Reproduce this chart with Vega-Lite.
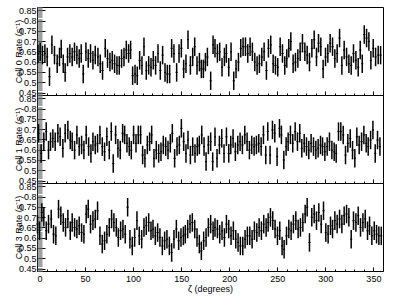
{
"$schema": "https://vega.github.io/schema/vega-lite/v6.json",
"padding": {"left": 13, "top": 5, "right": 5, "bottom": 2},
"spacing": 0,
"bounds": "flush",
"config": {"view": {"stroke": "#000", "strokeWidth": 1}, "font": "Liberation Sans", "axis": {"grid": false, "domain": false, "labelFont": "Liberation Sans", "titleFont": "Liberation Sans", "labelColor": "#000", "titleColor": "#000", "titleFontWeight": "normal"}},
"datasets": {
"d0": [{"z":1,"r":0.637,"e":0.045},{"z":3.3,"r":0.648,"e":0.045},{"z":5.7,"r":0.632,"e":0.045},{"z":8.2,"r":0.64,"e":0.045},{"z":10.6,"r":0.623,"e":0.045},{"z":13,"r":0.527,"e":0.045},{"z":15.5,"r":0.682,"e":0.045},{"z":18.2,"r":0.632,"e":0.045},{"z":21,"r":0.59,"e":0.045},{"z":23.4,"r":0.623,"e":0.045},{"z":25.2,"r":0.662,"e":0.045},{"z":27.3,"r":0.59,"e":0.045},{"z":29.3,"r":0.548,"e":0.045},{"z":31.8,"r":0.623,"e":0.045},{"z":34.2,"r":0.64,"e":0.045},{"z":36.6,"r":0.623,"e":0.045},{"z":39,"r":0.648,"e":0.045},{"z":41.5,"r":0.632,"e":0.045},{"z":43.9,"r":0.615,"e":0.045},{"z":46,"r":0.64,"e":0.045},{"z":48.1,"r":0.54,"e":0.045},{"z":50.9,"r":0.648,"e":0.045},{"z":53.3,"r":0.615,"e":0.045},{"z":55.7,"r":0.64,"e":0.045},{"z":58.2,"r":0.607,"e":0.045},{"z":60.6,"r":0.632,"e":0.045},{"z":63.4,"r":0.623,"e":0.045},{"z":65.8,"r":0.59,"e":0.045},{"z":68.2,"r":0.557,"e":0.045},{"z":71,"r":0.665,"e":0.045},{"z":73.4,"r":0.615,"e":0.045},{"z":75.9,"r":0.598,"e":0.045},{"z":78.3,"r":0.607,"e":0.045},{"z":80.7,"r":0.59,"e":0.045},{"z":83.2,"r":0.582,"e":0.045},{"z":85.6,"r":0.582,"e":0.045},{"z":88,"r":0.615,"e":0.045},{"z":90.5,"r":0.623,"e":0.045},{"z":92.9,"r":0.657,"e":0.045},{"z":95.3,"r":0.64,"e":0.045},{"z":97.4,"r":0.657,"e":0.045},{"z":99.5,"r":0.532,"e":0.045},{"z":102,"r":0.54,"e":0.045},{"z":104.3,"r":0.532,"e":0.045},{"z":106.8,"r":0.607,"e":0.045},{"z":109.2,"r":0.582,"e":0.045},{"z":111.3,"r":0.673,"e":0.045},{"z":113.7,"r":0.557,"e":0.045},{"z":116.2,"r":0.582,"e":0.045},{"z":118.6,"r":0.573,"e":0.045},{"z":121,"r":0.607,"e":0.045},{"z":123.4,"r":0.582,"e":0.045},{"z":125.9,"r":0.64,"e":0.045},{"z":128.3,"r":0.557,"e":0.045},{"z":130.7,"r":0.632,"e":0.045},{"z":133.2,"r":0.548,"e":0.045},{"z":135.6,"r":0.54,"e":0.045},{"z":138,"r":0.54,"e":0.045},{"z":140.1,"r":0.665,"e":0.045},{"z":142.5,"r":0.64,"e":0.045},{"z":145.3,"r":0.548,"e":0.045},{"z":147.8,"r":0.64,"e":0.045},{"z":150.2,"r":0.665,"e":0.045},{"z":152.6,"r":0.565,"e":0.045},{"z":155,"r":0.59,"e":0.045},{"z":157.1,"r":0.707,"e":0.045},{"z":159.6,"r":0.582,"e":0.045},{"z":162,"r":0.623,"e":0.045},{"z":164.1,"r":0.673,"e":0.045},{"z":166.5,"r":0.582,"e":0.045},{"z":169,"r":0.598,"e":0.045},{"z":171,"r":0.565,"e":0.045},{"z":173.1,"r":0.565,"e":0.045},{"z":175.2,"r":0.598,"e":0.045},{"z":177.3,"r":0.623,"e":0.045},{"z":180.7,"r":0.507,"e":0.045},{"z":183.2,"r":0.682,"e":0.045},{"z":185.2,"r":0.665,"e":0.045},{"z":187.7,"r":0.64,"e":0.045},{"z":190.1,"r":0.648,"e":0.045},{"z":192.5,"r":0.573,"e":0.045},{"z":195,"r":0.623,"e":0.045},{"z":197,"r":0.64,"e":0.045},{"z":199.5,"r":0.573,"e":0.045},{"z":201.9,"r":0.648,"e":0.045},{"z":204.7,"r":0.507,"e":0.045},{"z":207.1,"r":0.565,"e":0.045},{"z":209.6,"r":0.598,"e":0.045},{"z":212,"r":0.665,"e":0.045},{"z":214.4,"r":0.673,"e":0.045},{"z":216.9,"r":0.673,"e":0.045},{"z":219.3,"r":0.64,"e":0.045},{"z":221.7,"r":0.673,"e":0.045},{"z":224.1,"r":0.648,"e":0.045},{"z":226.6,"r":0.598,"e":0.045},{"z":229,"r":0.582,"e":0.045},{"z":231.4,"r":0.59,"e":0.045},{"z":233.9,"r":0.623,"e":0.045},{"z":236.3,"r":0.648,"e":0.045},{"z":238.7,"r":0.557,"e":0.045},{"z":240.8,"r":0.665,"e":0.045},{"z":243.2,"r":0.682,"e":0.045},{"z":245.7,"r":0.59,"e":0.045},{"z":248.1,"r":0.582,"e":0.045},{"z":250.5,"r":0.573,"e":0.045},{"z":253,"r":0.673,"e":0.045},{"z":255.4,"r":0.64,"e":0.045},{"z":257.8,"r":0.582,"e":0.045},{"z":259.9,"r":0.615,"e":0.045},{"z":262,"r":0.665,"e":0.045},{"z":264.1,"r":0.698,"e":0.045},{"z":266.5,"r":0.59,"e":0.045},{"z":268.9,"r":0.598,"e":0.045},{"z":271.4,"r":0.615,"e":0.045},{"z":273.8,"r":0.648,"e":0.045},{"z":276.2,"r":0.69,"e":0.045},{"z":278.7,"r":0.648,"e":0.045},{"z":281.1,"r":0.632,"e":0.045},{"z":283.5,"r":0.598,"e":0.045},{"z":286,"r":0.665,"e":0.045},{"z":288.4,"r":0.707,"e":0.045},{"z":290.8,"r":0.623,"e":0.045},{"z":292.9,"r":0.69,"e":0.045},{"z":295.3,"r":0.673,"e":0.045},{"z":297.7,"r":0.565,"e":0.045},{"z":300.2,"r":0.623,"e":0.045},{"z":302.6,"r":0.64,"e":0.045},{"z":305,"r":0.69,"e":0.045},{"z":307.5,"r":0.673,"e":0.045},{"z":309.9,"r":0.615,"e":0.045},{"z":312.3,"r":0.64,"e":0.045},{"z":314.8,"r":0.715,"e":0.045},{"z":317.2,"r":0.582,"e":0.045},{"z":319.6,"r":0.657,"e":0.045},{"z":322.1,"r":0.623,"e":0.045},{"z":324.5,"r":0.59,"e":0.045},{"z":326.9,"r":0.582,"e":0.045},{"z":329.3,"r":0.64,"e":0.045},{"z":331.8,"r":0.607,"e":0.045},{"z":334.2,"r":0.573,"e":0.045},{"z":336.3,"r":0.657,"e":0.045},{"z":338.4,"r":0.59,"e":0.045},{"z":340.5,"r":0.732,"e":0.045},{"z":342.9,"r":0.715,"e":0.045},{"z":345.3,"r":0.698,"e":0.045},{"z":347.4,"r":0.607,"e":0.045},{"z":349.8,"r":0.665,"e":0.045},{"z":352.3,"r":0.623,"e":0.045},{"z":355,"r":0.632,"e":0.045},{"z":357.5,"r":0.632,"e":0.045}],
"d1": [{"z":1.6,"r":0.68,"e":0.045},{"z":4.3,"r":0.582,"e":0.045},{"z":7.1,"r":0.639,"e":0.045},{"z":9.6,"r":0.688,"e":0.045},{"z":12,"r":0.598,"e":0.045},{"z":14.1,"r":0.639,"e":0.045},{"z":16.5,"r":0.655,"e":0.045},{"z":18.9,"r":0.639,"e":0.045},{"z":21.7,"r":0.68,"e":0.045},{"z":24.1,"r":0.663,"e":0.045},{"z":26.9,"r":0.607,"e":0.045},{"z":29.3,"r":0.68,"e":0.045},{"z":32.1,"r":0.696,"e":0.045},{"z":34.6,"r":0.647,"e":0.045},{"z":36.6,"r":0.639,"e":0.045},{"z":39.1,"r":0.598,"e":0.045},{"z":41.5,"r":0.672,"e":0.045},{"z":43.9,"r":0.615,"e":0.045},{"z":46.4,"r":0.623,"e":0.045},{"z":48.8,"r":0.598,"e":0.045},{"z":51.2,"r":0.672,"e":0.045},{"z":53.7,"r":0.615,"e":0.045},{"z":56.1,"r":0.582,"e":0.045},{"z":58.2,"r":0.639,"e":0.045},{"z":60.6,"r":0.623,"e":0.045},{"z":63,"r":0.631,"e":0.045},{"z":65.5,"r":0.672,"e":0.045},{"z":67.9,"r":0.615,"e":0.045},{"z":70.3,"r":0.59,"e":0.045},{"z":72.7,"r":0.663,"e":0.045},{"z":75.2,"r":0.598,"e":0.045},{"z":77.3,"r":0.688,"e":0.045},{"z":79.3,"r":0.533,"e":0.045},{"z":81.8,"r":0.672,"e":0.045},{"z":84.2,"r":0.607,"e":0.045},{"z":86.6,"r":0.598,"e":0.045},{"z":89.1,"r":0.68,"e":0.045},{"z":91.2,"r":0.672,"e":0.045},{"z":93.6,"r":0.631,"e":0.045},{"z":96,"r":0.615,"e":0.045},{"z":98.1,"r":0.598,"e":0.045},{"z":100.5,"r":0.672,"e":0.045},{"z":103,"r":0.631,"e":0.045},{"z":105.4,"r":0.672,"e":0.045},{"z":107.8,"r":0.672,"e":0.045},{"z":109.9,"r":0.574,"e":0.045},{"z":112.3,"r":0.558,"e":0.045},{"z":114.8,"r":0.623,"e":0.045},{"z":117.2,"r":0.639,"e":0.045},{"z":119.3,"r":0.672,"e":0.045},{"z":121.7,"r":0.558,"e":0.045},{"z":124.1,"r":0.598,"e":0.045},{"z":126.6,"r":0.582,"e":0.045},{"z":129,"r":0.59,"e":0.045},{"z":131.4,"r":0.623,"e":0.045},{"z":133.9,"r":0.615,"e":0.045},{"z":136.3,"r":0.598,"e":0.045},{"z":138.7,"r":0.631,"e":0.045},{"z":140.8,"r":0.68,"e":0.045},{"z":143.2,"r":0.558,"e":0.045},{"z":145.7,"r":0.615,"e":0.045},{"z":148.1,"r":0.623,"e":0.045},{"z":150.2,"r":0.704,"e":0.045},{"z":152.6,"r":0.639,"e":0.045},{"z":155,"r":0.582,"e":0.045},{"z":157.1,"r":0.647,"e":0.045},{"z":159.6,"r":0.574,"e":0.045},{"z":162,"r":0.615,"e":0.045},{"z":164.4,"r":0.582,"e":0.045},{"z":166.8,"r":0.615,"e":0.045},{"z":168.9,"r":0.623,"e":0.045},{"z":171.4,"r":0.672,"e":0.045},{"z":173.8,"r":0.615,"e":0.045},{"z":175.9,"r":0.542,"e":0.045},{"z":178.3,"r":0.623,"e":0.045},{"z":180.7,"r":0.639,"e":0.045},{"z":182.8,"r":0.542,"e":0.045},{"z":185.2,"r":0.663,"e":0.045},{"z":187.3,"r":0.558,"e":0.045},{"z":189.8,"r":0.623,"e":0.045},{"z":192.2,"r":0.655,"e":0.045},{"z":194.6,"r":0.582,"e":0.045},{"z":197.1,"r":0.663,"e":0.045},{"z":199.5,"r":0.582,"e":0.045},{"z":201.6,"r":0.623,"e":0.045},{"z":204,"r":0.655,"e":0.045},{"z":206.4,"r":0.59,"e":0.045},{"z":208.9,"r":0.623,"e":0.045},{"z":211.3,"r":0.639,"e":0.045},{"z":213.7,"r":0.623,"e":0.045},{"z":216.2,"r":0.672,"e":0.045},{"z":218.6,"r":0.639,"e":0.045},{"z":221,"r":0.598,"e":0.045},{"z":223.4,"r":0.623,"e":0.045},{"z":225.9,"r":0.615,"e":0.045},{"z":228.3,"r":0.623,"e":0.045},{"z":230.7,"r":0.631,"e":0.045},{"z":233.2,"r":0.615,"e":0.045},{"z":235.6,"r":0.672,"e":0.045},{"z":238,"r":0.574,"e":0.045},{"z":240.1,"r":0.688,"e":0.045},{"z":242.5,"r":0.574,"e":0.045},{"z":245,"r":0.696,"e":0.045},{"z":247.4,"r":0.68,"e":0.045},{"z":249.8,"r":0.566,"e":0.045},{"z":252.3,"r":0.704,"e":0.045},{"z":254.3,"r":0.672,"e":0.045},{"z":256.8,"r":0.55,"e":0.045},{"z":259.2,"r":0.615,"e":0.045},{"z":261.3,"r":0.639,"e":0.045},{"z":263.7,"r":0.672,"e":0.045},{"z":266.1,"r":0.631,"e":0.045},{"z":268.6,"r":0.688,"e":0.045},{"z":271,"r":0.639,"e":0.045},{"z":273.4,"r":0.68,"e":0.045},{"z":275.5,"r":0.607,"e":0.045},{"z":278,"r":0.631,"e":0.045},{"z":280.4,"r":0.615,"e":0.045},{"z":282.8,"r":0.598,"e":0.045},{"z":285.2,"r":0.631,"e":0.045},{"z":287.7,"r":0.615,"e":0.045},{"z":290.1,"r":0.598,"e":0.045},{"z":292.5,"r":0.607,"e":0.045},{"z":295,"r":0.623,"e":0.045},{"z":297.1,"r":0.615,"e":0.045},{"z":299.5,"r":0.59,"e":0.045},{"z":301.9,"r":0.615,"e":0.045},{"z":304.3,"r":0.639,"e":0.045},{"z":306.8,"r":0.598,"e":0.045},{"z":309.2,"r":0.59,"e":0.045},{"z":311.3,"r":0.582,"e":0.045},{"z":313.7,"r":0.688,"e":0.045},{"z":316.1,"r":0.688,"e":0.045},{"z":318.6,"r":0.672,"e":0.045},{"z":321,"r":0.574,"e":0.045},{"z":323.4,"r":0.631,"e":0.045},{"z":325.9,"r":0.655,"e":0.045},{"z":328.3,"r":0.598,"e":0.045},{"z":330.7,"r":0.558,"e":0.045},{"z":332.8,"r":0.663,"e":0.045},{"z":335.2,"r":0.623,"e":0.045},{"z":337.7,"r":0.639,"e":0.045},{"z":340.1,"r":0.672,"e":0.045},{"z":342.5,"r":0.631,"e":0.045},{"z":344.6,"r":0.615,"e":0.045},{"z":347.1,"r":0.647,"e":0.045},{"z":349.5,"r":0.696,"e":0.045},{"z":351.9,"r":0.582,"e":0.045},{"z":354.3,"r":0.647,"e":0.045},{"z":356.8,"r":0.615,"e":0.045}],
"d3": [{"z":0.5,"r":0.666,"e":0.045},{"z":2.6,"r":0.634,"e":0.045},{"z":5,"r":0.723,"e":0.045},{"z":7.1,"r":0.699,"e":0.045},{"z":9.6,"r":0.634,"e":0.045},{"z":12,"r":0.666,"e":0.045},{"z":14.8,"r":0.691,"e":0.045},{"z":17.2,"r":0.617,"e":0.045},{"z":19.6,"r":0.609,"e":0.045},{"z":22.4,"r":0.739,"e":0.045},{"z":24.8,"r":0.707,"e":0.045},{"z":27.3,"r":0.674,"e":0.045},{"z":29.7,"r":0.65,"e":0.045},{"z":32.1,"r":0.691,"e":0.045},{"z":34.6,"r":0.634,"e":0.045},{"z":36.6,"r":0.674,"e":0.045},{"z":39.1,"r":0.65,"e":0.045},{"z":41.5,"r":0.642,"e":0.045},{"z":43.9,"r":0.658,"e":0.045},{"z":46.4,"r":0.625,"e":0.045},{"z":48.8,"r":0.617,"e":0.045},{"z":51.2,"r":0.715,"e":0.045},{"z":53.3,"r":0.739,"e":0.045},{"z":55.7,"r":0.666,"e":0.045},{"z":58.2,"r":0.683,"e":0.045},{"z":60.6,"r":0.691,"e":0.045},{"z":63,"r":0.731,"e":0.045},{"z":65.5,"r":0.609,"e":0.045},{"z":67.9,"r":0.569,"e":0.045},{"z":70.3,"r":0.585,"e":0.045},{"z":72.7,"r":0.617,"e":0.045},{"z":75.2,"r":0.65,"e":0.045},{"z":77.6,"r":0.691,"e":0.045},{"z":80,"r":0.674,"e":0.045},{"z":82.5,"r":0.65,"e":0.045},{"z":84.6,"r":0.601,"e":0.045},{"z":87,"r":0.634,"e":0.045},{"z":89.4,"r":0.642,"e":0.045},{"z":91.8,"r":0.617,"e":0.045},{"z":94.3,"r":0.748,"e":0.045},{"z":96.7,"r":0.593,"e":0.045},{"z":99.1,"r":0.56,"e":0.045},{"z":101.6,"r":0.601,"e":0.045},{"z":104,"r":0.683,"e":0.045},{"z":106.4,"r":0.609,"e":0.045},{"z":108.9,"r":0.593,"e":0.045},{"z":111.3,"r":0.65,"e":0.045},{"z":113.7,"r":0.658,"e":0.045},{"z":116.2,"r":0.674,"e":0.045},{"z":118.6,"r":0.634,"e":0.045},{"z":120.7,"r":0.642,"e":0.045},{"z":123.1,"r":0.609,"e":0.045},{"z":125.5,"r":0.625,"e":0.045},{"z":127.9,"r":0.601,"e":0.045},{"z":130.4,"r":0.56,"e":0.045},{"z":132.8,"r":0.585,"e":0.045},{"z":135.2,"r":0.593,"e":0.045},{"z":137.7,"r":0.56,"e":0.045},{"z":140.1,"r":0.528,"e":0.045},{"z":142.5,"r":0.593,"e":0.045},{"z":145,"r":0.642,"e":0.045},{"z":147.4,"r":0.585,"e":0.045},{"z":149.8,"r":0.601,"e":0.045},{"z":152.3,"r":0.609,"e":0.045},{"z":154.3,"r":0.617,"e":0.045},{"z":156.8,"r":0.642,"e":0.045},{"z":159.2,"r":0.666,"e":0.045},{"z":161.6,"r":0.674,"e":0.045},{"z":164.1,"r":0.642,"e":0.045},{"z":166.5,"r":0.601,"e":0.045},{"z":168.9,"r":0.569,"e":0.045},{"z":171,"r":0.536,"e":0.045},{"z":173.4,"r":0.585,"e":0.045},{"z":175.9,"r":0.601,"e":0.045},{"z":178.3,"r":0.65,"e":0.045},{"z":180.7,"r":0.666,"e":0.045},{"z":183.2,"r":0.634,"e":0.045},{"z":185.2,"r":0.65,"e":0.045},{"z":187.7,"r":0.642,"e":0.045},{"z":190.1,"r":0.617,"e":0.045},{"z":192.5,"r":0.634,"e":0.045},{"z":195,"r":0.601,"e":0.045},{"z":197.1,"r":0.666,"e":0.045},{"z":199.5,"r":0.642,"e":0.045},{"z":201.9,"r":0.609,"e":0.045},{"z":204.3,"r":0.634,"e":0.045},{"z":206.8,"r":0.593,"e":0.045},{"z":209.2,"r":0.577,"e":0.045},{"z":211.6,"r":0.56,"e":0.045},{"z":214.1,"r":0.56,"e":0.045},{"z":216.5,"r":0.593,"e":0.045},{"z":218.9,"r":0.609,"e":0.045},{"z":221.4,"r":0.609,"e":0.045},{"z":223.8,"r":0.593,"e":0.045},{"z":226.2,"r":0.634,"e":0.045},{"z":228.7,"r":0.625,"e":0.045},{"z":231.1,"r":0.65,"e":0.045},{"z":233.5,"r":0.634,"e":0.045},{"z":235.9,"r":0.666,"e":0.045},{"z":238.4,"r":0.65,"e":0.045},{"z":240.5,"r":0.674,"e":0.045},{"z":242.9,"r":0.699,"e":0.045},{"z":245.3,"r":0.683,"e":0.045},{"z":247.7,"r":0.642,"e":0.045},{"z":250.2,"r":0.609,"e":0.045},{"z":252.6,"r":0.634,"e":0.045},{"z":255,"r":0.56,"e":0.045},{"z":257.1,"r":0.544,"e":0.045},{"z":259.6,"r":0.609,"e":0.045},{"z":262,"r":0.642,"e":0.045},{"z":264.4,"r":0.634,"e":0.045},{"z":266.8,"r":0.666,"e":0.045},{"z":269.3,"r":0.683,"e":0.045},{"z":271.7,"r":0.642,"e":0.045},{"z":274.1,"r":0.65,"e":0.045},{"z":276.6,"r":0.674,"e":0.045},{"z":279,"r":0.715,"e":0.045},{"z":281.1,"r":0.748,"e":0.045},{"z":283.5,"r":0.577,"e":0.045},{"z":285.9,"r":0.699,"e":0.045},{"z":288.4,"r":0.715,"e":0.045},{"z":290.8,"r":0.683,"e":0.045},{"z":293.2,"r":0.723,"e":0.045},{"z":295.7,"r":0.666,"e":0.045},{"z":298.1,"r":0.731,"e":0.045},{"z":300.5,"r":0.625,"e":0.045},{"z":302.9,"r":0.617,"e":0.045},{"z":305.4,"r":0.658,"e":0.045},{"z":307.5,"r":0.642,"e":0.045},{"z":309.9,"r":0.683,"e":0.045},{"z":312.3,"r":0.666,"e":0.045},{"z":314.8,"r":0.691,"e":0.045},{"z":317.2,"r":0.666,"e":0.045},{"z":319.6,"r":0.707,"e":0.045},{"z":322.1,"r":0.715,"e":0.045},{"z":324.5,"r":0.699,"e":0.045},{"z":326.9,"r":0.593,"e":0.045},{"z":329.3,"r":0.683,"e":0.045},{"z":331.8,"r":0.674,"e":0.045},{"z":334.2,"r":0.707,"e":0.045},{"z":336.6,"r":0.65,"e":0.045},{"z":339.1,"r":0.674,"e":0.045},{"z":341.5,"r":0.691,"e":0.045},{"z":343.9,"r":0.634,"e":0.045},{"z":346,"r":0.658,"e":0.045},{"z":348.4,"r":0.609,"e":0.045},{"z":350.9,"r":0.634,"e":0.045},{"z":353.3,"r":0.617,"e":0.045},{"z":355.7,"r":0.609,"e":0.045},{"z":358.2,"r":0.609,"e":0.045}]
},
"vconcat": [
{
"width": 346, "height": 88,
"data": {"name": "d0"},
"layer": [
{"mark": {"type": "errorbar", "color": "#000", "thickness": 1.5},
 "encoding": {
  "x": {"field": "z", "type": "quantitative", "scale": {"domain": [0, 360], "nice": false, "zero": false}, "axis": null},
  "y": {"field": "r", "type": "quantitative", "scale": {"domain": [0.438, 0.866], "nice": false, "zero": false}, "axis": {"orient": "left", "values": [0.45, 0.5, 0.55, 0.6, 0.65, 0.7, 0.75, 0.8, 0.85], "format": ".2~f", "labelFontSize": 9, "labelPadding": 1, "ticks": false, "tickSize": 0, "title": "Cell 0 Rate (s⁻¹)", "titleFontSize": 9, "titlePadding": -5}},
  "yError": {"field": "e"}}},
{"mark": {"type": "tick", "color": "#000", "orient": "horizontal", "size": 2, "thickness": 1},
 "encoding": {
  "x": {"field": "z", "type": "quantitative", "axis": {"orient": "bottom", "values": [0, 50, 100, 150, 200, 250, 300, 350], "labels": false, "title": null, "tickSize": -4, "tickColor": "#000"}},
  "y": {"field": "r", "type": "quantitative", "axis": {"orient": "left", "values": [0.45, 0.5, 0.55, 0.6, 0.65, 0.7, 0.75, 0.8, 0.85], "labels": false, "title": null, "tickSize": -8, "tickColor": "#000"}}}},
{"mark": {"type": "tick", "color": "#000", "orient": "horizontal", "size": 2, "thickness": 1},
 "encoding": {
  "x": {"field": "z", "type": "quantitative", "axis": {"orient": "bottom", "tickCount": 36, "labels": false, "title": null, "tickSize": -2, "tickColor": "#000"}},
  "y": {"field": "r", "type": "quantitative", "axis": {"orient": "left", "tickCount": 86, "labels": false, "title": null, "tickSize": -5, "tickColor": "#777", "tickWidth": 0.7}}}}
],
"resolve": {"axis": {"x": "independent", "y": "independent"}}
},
{
"width": 346, "height": 88,
"data": {"name": "d1"},
"layer": [
{"mark": {"type": "errorbar", "color": "#000", "thickness": 1.5},
 "encoding": {
  "x": {"field": "z", "type": "quantitative", "scale": {"domain": [0, 360], "nice": false, "zero": false}, "axis": null},
  "y": {"field": "r", "type": "quantitative", "scale": {"domain": [0.438, 0.866], "nice": false, "zero": false}, "axis": {"orient": "left", "values": [0.45, 0.5, 0.55, 0.6, 0.65, 0.7, 0.75, 0.8, 0.85], "format": ".2~f", "labelFontSize": 9, "labelPadding": 1, "ticks": false, "tickSize": 0, "title": "Cell 1 Rate (s⁻¹)", "titleFontSize": 9, "titlePadding": -5}},
  "yError": {"field": "e"}}},
{"mark": {"type": "tick", "color": "#000", "orient": "horizontal", "size": 2, "thickness": 1},
 "encoding": {
  "x": {"field": "z", "type": "quantitative", "axis": {"orient": "bottom", "values": [0, 50, 100, 150, 200, 250, 300, 350], "labels": false, "title": null, "tickSize": -4, "tickColor": "#000"}},
  "y": {"field": "r", "type": "quantitative", "axis": {"orient": "left", "values": [0.45, 0.5, 0.55, 0.6, 0.65, 0.7, 0.75, 0.8, 0.85], "labels": false, "title": null, "tickSize": -8, "tickColor": "#000"}}}},
{"mark": {"type": "tick", "color": "#000", "orient": "horizontal", "size": 2, "thickness": 1},
 "encoding": {
  "x": {"field": "z", "type": "quantitative", "axis": {"orient": "bottom", "tickCount": 36, "labels": false, "title": null, "tickSize": -2, "tickColor": "#000"}},
  "y": {"field": "r", "type": "quantitative", "axis": {"orient": "left", "tickCount": 86, "labels": false, "title": null, "tickSize": -5, "tickColor": "#777", "tickWidth": 0.7}}}}
],
"resolve": {"axis": {"x": "independent", "y": "independent"}}
},
{
"width": 346, "height": 88,
"data": {"name": "d3"},
"layer": [
{"mark": {"type": "errorbar", "color": "#000", "thickness": 1.5},
 "encoding": {
  "x": {"field": "z", "type": "quantitative", "scale": {"domain": [0, 360], "nice": false, "zero": false}, "axis": {"orient": "bottom", "values": [0, 50, 100, 150, 200, 250, 300, 350], "format": "d", "labelFontSize": 9, "labelPadding": 3, "ticks": false, "tickSize": 0, "title": "ζ (degrees)", "titleFontSize": 9, "titlePadding": 1}},
  "y": {"field": "r", "type": "quantitative", "scale": {"domain": [0.438, 0.866], "nice": false, "zero": false}, "axis": {"orient": "left", "values": [0.45, 0.5, 0.55, 0.6, 0.65, 0.7, 0.75, 0.8, 0.85], "format": ".2~f", "labelFontSize": 9, "labelPadding": 1, "ticks": false, "tickSize": 0, "title": "Cell 3 Rate (s⁻¹)", "titleFontSize": 9, "titlePadding": -5}},
  "yError": {"field": "e"}}},
{"mark": {"type": "tick", "color": "#000", "orient": "horizontal", "size": 2, "thickness": 1},
 "encoding": {
  "x": {"field": "z", "type": "quantitative", "axis": {"orient": "bottom", "values": [0, 50, 100, 150, 200, 250, 300, 350], "labels": false, "title": null, "tickSize": -4, "tickColor": "#000"}},
  "y": {"field": "r", "type": "quantitative", "axis": {"orient": "left", "values": [0.45, 0.5, 0.55, 0.6, 0.65, 0.7, 0.75, 0.8, 0.85], "labels": false, "title": null, "tickSize": -8, "tickColor": "#000"}}}},
{"mark": {"type": "tick", "color": "#000", "orient": "horizontal", "size": 2, "thickness": 1},
 "encoding": {
  "x": {"field": "z", "type": "quantitative", "axis": {"orient": "bottom", "tickCount": 36, "labels": false, "title": null, "tickSize": -2, "tickColor": "#000"}},
  "y": {"field": "r", "type": "quantitative", "axis": {"orient": "left", "tickCount": 86, "labels": false, "title": null, "tickSize": -5, "tickColor": "#777", "tickWidth": 0.7}}}}
],
"resolve": {"axis": {"x": "independent", "y": "independent"}}
}
]
}
